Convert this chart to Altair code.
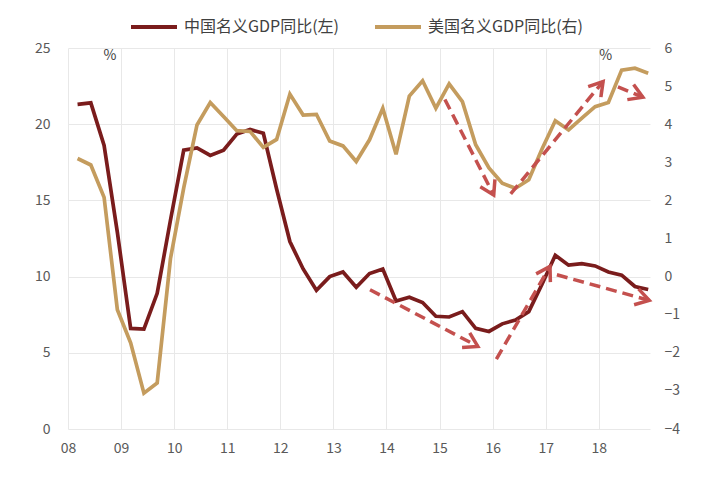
import math
import altair as alt
import pandas as pd

# ---------------- data ----------------
quarters = [f"{y}Q{q}" for y in range(2008, 2019) for q in range(1, 5)]
china = [21.3, 21.4, 18.6, 12.9, 6.6, 6.55, 8.9, 13.7, 18.3, 18.45, 17.95, 18.3,
         19.35, 19.65, 19.4, 15.75, 12.3, 10.5, 9.1, 10.0, 10.3, 9.3, 10.2, 10.5,
         8.4, 8.65, 8.3, 7.4, 7.35, 7.7, 6.6, 6.4, 6.9, 7.15, 7.7, 9.5,
         11.4, 10.75, 10.85, 10.7, 10.3, 10.1, 9.35, 9.15]
us = [3.1, 2.93, 2.08, -0.87, -1.74, -3.06, -2.79, 0.47, 2.33, 3.98, 4.57, 4.2,
      3.83, 3.81, 3.39, 3.6, 4.79, 4.24, 4.26, 3.56, 3.43, 3.02, 3.59, 4.42,
      3.21, 4.74, 5.14, 4.42, 5.06, 4.59, 3.46, 2.85, 2.45, 2.32, 2.54, 3.35,
      4.09, 3.85, 4.16, 4.46, 4.57, 5.42, 5.47, 5.34]
series_names = ["中国名义GDP同比(左)", "美国名义GDP同比(右)"]
series_colors = ["#7A1C1C", "#C49C5E"]
year_ticks = list(range(2008, 2019))
left_ticks = [0, 5, 10, 15, 20, 25]
right_ticks = [-4, -3, -2, -1, 0, 1, 2, 3, 4, 5, 6]

# trend arrows (data units): start x, start y, end x, end y
china_arrow_x0 = [2013.69, 2016.07, 2017.21]
china_arrow_y0 = [9.14, 4.59, 10.12]
china_arrow_x1 = [2015.72, 2017.08, 2018.95]
china_arrow_y1 = [5.42, 10.67, 8.44]
us_arrow_x0 = [2015.10, 2016.34, 2018.36]
us_arrow_y0 = [4.65, 2.17, 4.98]
us_arrow_x1 = [2016.02, 2018.08, 2018.83]
us_arrow_y1 = [2.14, 5.12, 4.71]

pct_x = [2008.79, 2018.13]
pct_y = [24.45, 24.45]

# ---------------- layout ----------------
X0, X1 = 2008.0, 2018.964
PLOT_W, PLOT_H = 582, 381
LEFT_DOM = [0, 25]
RIGHT_DOM = [-4, 6]
ARROW_COLOR = "#C4504E"
FONT = "Noto Sans CJK SC"

t = [2008 + (i + 0.72) / 4 for i in range(len(quarters))]
df_cn = pd.DataFrame({"t": t, "v": china, "series": series_names[0]})
df_us = pd.DataFrame({"t": t, "v": us, "series": series_names[1]})


def arrow_df(x0, y0, x1, y1, dom):
    px = PLOT_W / (X1 - X0)
    py = PLOT_H / (dom[1] - dom[0])
    ang = [(math.degrees(math.atan2(-(b1 - b0) * py, (a1 - a0) * px))) % 360
           for a0, b0, a1, b1 in zip(x0, y0, x1, y1)]
    return pd.DataFrame({"x0": x0, "y0": y0, "x1": x1, "y1": y1, "ang": ang})


df_cn_arr = arrow_df(china_arrow_x0, china_arrow_y0, china_arrow_x1, china_arrow_y1, LEFT_DOM)
df_us_arr = arrow_df(us_arrow_x0, us_arrow_y0, us_arrow_x1, us_arrow_y1, RIGHT_DOM)
df_pct = pd.DataFrame({"x": pct_x, "y": pct_y, "txt": ["%", "%"]})

xs = alt.Scale(domain=[X0, X1], nice=False, zero=False)
x_axis = alt.Axis(values=year_ticks, labelExpr="slice(toString(datum.value), 2)",
                  title=None, grid=True, ticks=False, domain=False, labelPadding=12,
                  labelFontSize=14, labelColor="#595959", labelFont=FONT,
                  gridColor="#E8E8E8", labelFlush=False)
ls = alt.Scale(domain=LEFT_DOM, nice=False, zero=False)
rs = alt.Scale(domain=RIGHT_DOM, nice=False, zero=False)

color = alt.Color("series:N", scale=alt.Scale(domain=series_names, range=series_colors),
                  legend=alt.Legend(orient="none", legendX=61, legendY=-46,
                                    direction="horizontal", title=None,
                                    labelFontSize=16, labelColor="#404040", labelFont=FONT,
                                    symbolType="stroke", symbolSize=2116,
                                    symbolStrokeWidth=4, columnPadding=28,
                                    labelOffset=5, labelLimit=400, padding=0))

chevron = "M -0.85 -0.52 L 0 0 L -0.85 0.52"


def X(field):
    return alt.X(field, type="quantitative", scale=xs, axis=x_axis)


cn_line = alt.Chart(df_cn).mark_line(strokeWidth=3.7).encode(
    x=X("t"),
    y=alt.Y("v:Q", scale=ls, axis=alt.Axis(values=left_ticks, title=None, grid=True,
                                            ticks=False, domain=False, labelPadding=18,
                                            labelFontSize=14, labelColor="#595959",
                                            labelFont=FONT, gridColor="#E8E8E8")),
    color=color,
)
cn_rules = alt.Chart(df_cn_arr).mark_rule(strokeWidth=3.5, strokeDash=[11, 6],
                                           color=ARROW_COLOR).encode(
    x=X("x0"), y=alt.Y("y0:Q", scale=ls, axis=None),
    x2="x1:Q", y2="y1:Q")
cn_heads = alt.Chart(df_cn_arr).mark_point(shape=chevron, size=1000, filled=False,
                                            strokeWidth=3.5, color=ARROW_COLOR,
                                            opacity=1, strokeJoin="miter").encode(
    x=X("x1"), y=alt.Y("y1:Q", scale=ls, axis=None),
    angle=alt.Angle("ang:Q", scale=None))
pct = alt.Chart(df_pct).mark_text(fontSize=14, color="#404040", font=FONT).encode(
    x=X("x"), y=alt.Y("y:Q", scale=ls, axis=None),
    text="txt:N")

us_line = alt.Chart(df_us).mark_line(strokeWidth=3.7).encode(
    x=X("t"),
    y=alt.Y("v:Q", scale=rs, axis=alt.Axis(values=right_ticks, orient="right", title=None,
                                            grid=False, ticks=False, domain=False,
                                            labelPadding=14, labelFontSize=14,
                                            labelColor="#595959", labelFont=FONT)),
    color=color,
)
us_rules = alt.Chart(df_us_arr).mark_rule(strokeWidth=3.5, strokeDash=[11, 6],
                                           color=ARROW_COLOR).encode(
    x=X("x0"), y=alt.Y("y0:Q", scale=rs, axis=None),
    x2="x1:Q", y2="y1:Q")
us_heads = alt.Chart(df_us_arr).mark_point(shape=chevron, size=1000, filled=False,
                                            strokeWidth=3.5, color=ARROW_COLOR,
                                            opacity=1, strokeJoin="miter").encode(
    x=X("x1"), y=alt.Y("y1:Q", scale=rs, axis=None),
    angle=alt.Angle("ang:Q", scale=None))

chart = alt.layer(cn_line, us_line, cn_rules, cn_heads, us_rules, us_heads, pct).resolve_scale(
    y="independent").properties(
    width=PLOT_W, height=PLOT_H,
    padding={"left": 60, "top": 40, "right": 50, "bottom": 40},
    autosize=alt.AutoSizeParams(type="none"),
    background="white",
).configure_view(strokeWidth=0)

chart.save("out.html", embed_options={"renderer": "svg", "actions": False})
